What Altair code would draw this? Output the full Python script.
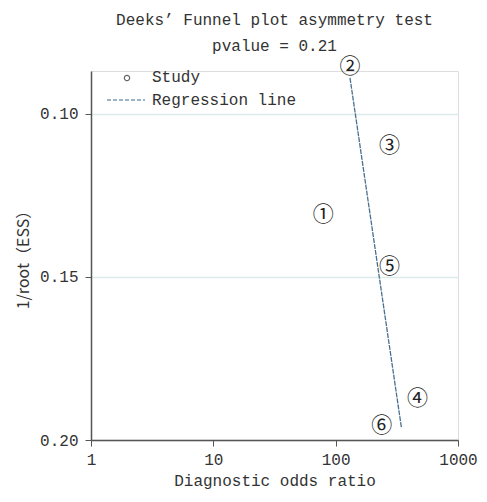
import altair as alt
import pandas as pd

# Data
study_labels = ["①", "②", "③", "④", "⑤", "⑥"]
study_dor = [79, 131, 276, 466, 276, 238]
study_y = [0.131, 0.0857, 0.1098, 0.1875, 0.147, 0.1957]

line_dor = [131, 345]
line_y = [0.089, 0.1963]

x_ticks = [1, 10, 100, 1000]
y_ticks = [0.10, 0.15, 0.20]

legend_labels = ["Study", "Regression line"]

FONT = "Liberation Mono"
CJK = "Noto Sans CJK SC"

pts = pd.DataFrame({"label": study_labels, "dor": study_dor, "y": study_y})
reg = pd.DataFrame({"dor": line_dor, "y": line_y})

xscale = alt.Scale(type="log", domain=[1, 1000], nice=False)
yscale = alt.Scale(domain=[0.0869, 0.20], reverse=True, nice=False, zero=False)

xaxis = alt.Axis(values=x_ticks, format="d", title="Diagnostic odds ratio",
                 grid=False, labelFont=FONT, titleFont=FONT, labelFontSize=16,
                 titleFontSize=16, titleFontWeight="normal", labelColor="#333",
                 titleColor="#333", domainColor="#555", tickColor="#555",
                 domainWidth=1.5, tickSize=6, labelPadding=5, titlePadding=5,
                 labelFlush=False)
yaxis = alt.Axis(values=y_ticks, format=".2f", title="1/root（ESS）",
                 grid=True, gridColor="#dcebea", gridWidth=1.5,
                 labelFont=FONT, titleFont=f"{CJK}", labelFontSize=16,
                 titleFontSize=16, titleFontWeight="normal", labelColor="#333",
                 titleColor="#333", domainColor="#555", tickColor="#555",
                 domainWidth=1.5, tickSize=6, labelPadding=7, titlePadding=8)

base_line = alt.Chart(reg).mark_line(
    color="#4a7090", strokeWidth=1.3, strokeDash=[5, 1]
).encode(
    x=alt.X("dor:Q", scale=xscale, axis=xaxis),
    y=alt.Y("y:Q", scale=yscale, axis=yaxis),
)

points = alt.Chart(pts).mark_text(
    font=CJK, fontSize=21, color="#222", align="center", baseline="middle"
).encode(
    x=alt.X("dor:Q", scale=xscale),
    y=alt.Y("y:Q", scale=yscale),
    text="label:N",
)

leg_df = pd.DataFrame({"t": legend_labels})
leg_circle = alt.Chart(leg_df.iloc[[0]]).mark_point(
    shape="circle", size=28, color="#222", strokeWidth=1.2, filled=False
).encode(x=alt.value(36), y=alt.value(7))
leg_dash = alt.Chart(leg_df.iloc[[1]]).mark_rule(
    color="#7a9ab5", strokeWidth=1.3, strokeDash=[4, 2]
).encode(x=alt.value(16), x2=alt.value(54), y=alt.value(29))
leg_text1 = alt.Chart(leg_df.iloc[[0]]).mark_text(
    font=FONT, fontSize=16, color="#333", align="left", baseline="middle"
).encode(x=alt.value(61), y=alt.value(6), text="t:N")
leg_text2 = alt.Chart(leg_df.iloc[[1]]).mark_text(
    font=FONT, fontSize=16, color="#333", align="left", baseline="middle"
).encode(x=alt.value(61), y=alt.value(29), text="t:N")

chart = alt.layer(base_line, points, leg_circle, leg_dash, leg_text1, leg_text2).properties(
    width=367,
    height=369,
    title=alt.TitleParams(
        ["Deeks’ Funnel plot asymmetry test", "pvalue = 0.21"],
        font=FONT, fontSize=16, fontWeight="normal", color="#333",
        anchor="middle", lineHeight=26, offset=2,
    ),
    autosize=alt.AutoSizeParams(type="none"),
    padding={"left": 83, "top": 63, "right": 21, "bottom": 54},
).configure_view(stroke=None).configure(background="white")

chart.save("out.html", embed_options={"renderer": "svg", "actions": False})
